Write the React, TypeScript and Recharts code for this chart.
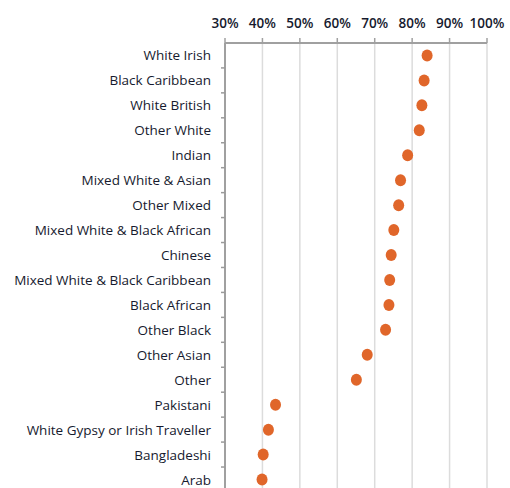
import { ScatterChart, Scatter, XAxis, YAxis, CartesianGrid } from 'recharts';

const groups = [
  'White Irish',
  'Black Caribbean',
  'White British',
  'Other White',
  'Indian',
  'Mixed White & Asian',
  'Other Mixed',
  'Mixed White & Black African',
  'Chinese',
  'Mixed White & Black Caribbean',
  'Black African',
  'Other Black',
  'Other Asian',
  'Other',
  'Pakistani',
  'White Gypsy or Irish Traveller',
  'Bangladeshi',
  'Arab',
];

const shares = [84.0, 83.2, 82.6, 81.9, 78.8, 76.9, 76.4, 75.1, 74.4, 74.0, 73.8, 72.9, 68.0, 65.1, 43.5, 41.6, 40.2, 39.9];

const xTicks = [30, 40, 50, 60, 70, 80, 90, 100];

const data = groups.map((name, i) => ({ name, value: shares[i] }));

const FONT = '"Open Sans", sans-serif';
const BAND = 448 / groups.length;

// label plus a small tick at the lower band edge
const GroupTick = (props: any) => {
  const { x, y, payload } = props;
  return (
    <g>
      <text x={x - 14} y={y} dy={5} textAnchor="end" fontSize={13.5} fontWeight={500} fontFamily={FONT} fill="#161a2e">
        {payload.value}
      </text>
      <line x1={x - 4} x2={x} y1={y + BAND / 2} y2={y + BAND / 2} stroke="#9a9a9a" strokeWidth={1.5} />
    </g>
  );
};

export default function App() {
  return (
    <div style={{ position: 'absolute', left: 0, top: 0, width: 510, height: 488, overflow: 'hidden', background: '#fff' }}>
      <ScatterChart width={510} height={496} data={data} margin={{ top: 0, right: 23, bottom: 4, left: 0 }}>
        <CartesianGrid horizontal={false} stroke="#dcdcdc" strokeWidth={1.5} />
        <XAxis
          type="number"
          dataKey="value"
          orientation="top"
          domain={[30, 100]}
          ticks={xTicks}
          tickFormatter={(v: number) => `${v}%`}
          height={43}
          axisLine={{ stroke: '#a0a0a0', strokeWidth: 2 }}
          tickLine={{ stroke: '#a0a0a0', strokeWidth: 1.5 }}
          tickSize={5}
          tickMargin={10}
          tick={{ fontSize: 13.5, fontWeight: 600, fontFamily: FONT, fill: '#161a2e' }}
          interval={0}
        />
        <YAxis
          type="category"
          dataKey="name"
          reversed
          width={225}
          interval={0}
          tickLine={false}
          tickSize={0}
          tickMargin={0}
          axisLine={{ stroke: '#a0a0a0', strokeWidth: 2 }}
          tick={<GroupTick />}
        />
        <Scatter
          dataKey="value"
          fill="#e0662a"
          isAnimationActive={false}
          shape={(p: any) => <ellipse cx={p.cx} cy={p.cy} rx={5.5} ry={6} fill="#e0662a" />}
        />
      </ScatterChart>
    </div>
  );
}
